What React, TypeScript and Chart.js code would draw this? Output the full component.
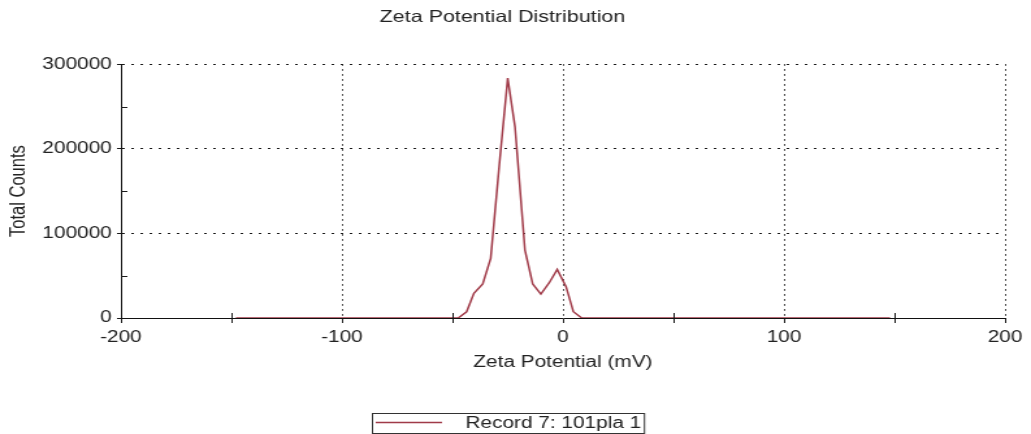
import React, { useEffect, useRef } from "react";
import { Chart, registerables } from "chart.js";

Chart.register(...registerables);

// ---- data ----
const zetaPotential = [
  -148, -47.4, -43.6, -40.3, -36.3, -32.7, -28.9, -25.0, -21.7, -17.2,
  -13.7, -10.0, -6.2, -2.6, 1.4, 4.7, 8.5, 148,
];
const totalCounts = [
  0, 0, 7400, 29200, 40200, 70500, 178000, 283500, 226000, 80300,
  40200, 28300, 41700, 57500, 37000, 7400, 0, 0,
];
const seriesLabel = "Record 7: 101pla 1";
const chartTitle = "Zeta Potential Distribution";
const xTitle = "Zeta Potential (mV)";
const yTitle = "Total Counts";

const xMin = -200;
const xMax = 200;
const xMinorStep = 50;
const xMajorStep = 100;
const yMin = 0;
const yMax = 300000;
const yMinorStep = 50000;
const yMajorStep = 100000;

// ---- layout / style ----
const STRETCH = 1.3; // the reference is horizontally stretched
const OUT_W = 1031;
const OUT_H = 434;
const CW = Math.round(OUT_W / STRETCH);
const CH = OUT_H;
const FONT = "'Liberation Sans', Arial, sans-serif";
const TEXT = "#222";
const GRID = "#1a1a1a";
const LINE = "#a03a48";

const isMajor = (v: number, step: number) => Math.abs(v % step) < 1e-6;

const minorTicksPlugin = {
  id: "minorTicks",
  afterDraw(chart: any) {
    const { ctx, chartArea, scales } = chart;
    const x = scales.x;
    const y = scales.y;
    ctx.save();
    ctx.strokeStyle = GRID;
    ctx.lineWidth = 1;
    ctx.beginPath();
    y.ticks.forEach((t: any) => {
      if (!isMajor(t.value, yMajorStep)) {
        const py = Math.round(y.getPixelForValue(t.value)) + 0.5;
        ctx.moveTo(chartArea.left, py);
        ctx.lineTo(chartArea.left + 5, py);
      }
    });
    x.ticks.forEach((t: any) => {
      if (!isMajor(t.value, xMajorStep)) {
        const px = Math.round(x.getPixelForValue(t.value)) + 0.5;
        ctx.moveTo(px, chartArea.bottom);
        ctx.lineTo(px, chartArea.bottom - 5);
      }
    });
    ctx.stroke();
    ctx.restore();
  },
};

const boxedLegendPlugin = {
  id: "boxedLegend",
  afterDraw(chart: any) {
    const { ctx } = chart;
    const ds = chart.data.datasets[0];
    ctx.save();
    ctx.font = `16px ${FONT}`;
    const textW = ctx.measureText(ds.label).width;
    const boxLeft = 286;
    const boxTop = 413.5;
    const boxH = 20;
    const lineStart = boxLeft + 3;
    const lineEnd = lineStart + 51;
    const textX = lineEnd + 18;
    const boxRight = textX + textW + 2;
    ctx.strokeStyle = "#333";
    ctx.lineWidth = 1;
    ctx.strokeRect(boxLeft + 0.5, boxTop, boxRight - boxLeft, boxH);
    ctx.strokeStyle = ds.borderColor;
    ctx.lineWidth = 1.5;
    ctx.beginPath();
    ctx.moveTo(lineStart, boxTop + 9);
    ctx.lineTo(lineEnd, boxTop + 9);
    ctx.stroke();
    ctx.fillStyle = TEXT;
    ctx.textBaseline = "middle";
    ctx.textAlign = "left";
    ctx.fillText(ds.label, textX, boxTop + 10);
    ctx.restore();
  },
};

export default function App() {
  const canvasRef = useRef<HTMLCanvasElement | null>(null);

  useEffect(() => {
    const canvas = canvasRef.current;
    if (!canvas) return;
    const points = zetaPotential.map((x, i) => ({ x, y: totalCounts[i] }));
    const chart = new Chart(canvas, {
      type: "line",
      data: {
        datasets: [
          {
            label: seriesLabel,
            data: points,
            borderColor: LINE,
            backgroundColor: LINE,
            borderWidth: 1.5,
            pointRadius: 0,
            tension: 0,
            fill: false,
          },
        ],
      },
      plugins: [minorTicksPlugin, boxedLegendPlugin],
      options: {
        responsive: false,
        animation: false,
        devicePixelRatio: 1,
        layout: { padding: { left: 0, right: 20, top: 0, bottom: 56 } },
        plugins: {
          legend: { display: false },
          tooltip: { enabled: false },
          title: {
            display: true,
            text: chartTitle,
            color: TEXT,
            font: { family: FONT, size: 16.5, weight: "normal" },
            padding: { top: 8, bottom: 36.4 },
          },
        },
        scales: {
          x: {
            type: "linear",
            min: xMin,
            max: xMax,
            afterFit: (s: any) => {
              s.height = 60;
            },
            ticks: {
              stepSize: xMinorStep,
              autoSkip: false,
              maxRotation: 0,
              padding: 5,
              color: TEXT,
              font: { family: FONT, size: 16 },
              callback: (v: any) => (isMajor(Number(v), xMajorStep) ? String(v) : ""),
            },
            grid: {
              color: (c: any) =>
                c.tick && isMajor(c.tick.value, xMajorStep) ? GRID : "rgba(0,0,0,0)",
              lineWidth: 1,
              tickLength: 5,
              tickColor: GRID,
              tickWidth: 1,
            },
            border: { display: true, color: "#111", width: 1, dash: [1.5, 3.5] },
            title: {
              display: true,
              text: xTitle,
              color: TEXT,
              font: { family: FONT, size: 16 },
              padding: { top: 0, bottom: 5.4 },
            },
          },
          y: {
            type: "linear",
            min: yMin,
            max: yMax,
            afterFit: (s: any) => {
              s.width = 93;
            },
            ticks: {
              stepSize: yMinorStep,
              autoSkip: false,
              padding: 4,
              color: TEXT,
              font: { family: FONT, size: 16 },
              callback: (v: any) => (isMajor(Number(v), yMajorStep) ? String(v) : ""),
            },
            grid: {
              color: (c: any) =>
                c.tick && isMajor(c.tick.value, yMajorStep) ? GRID : "rgba(0,0,0,0)",
              lineWidth: 1,
              tickLength: 3,
              tickColor: (c: any) =>
                c.tick && isMajor(c.tick.value, yMajorStep) ? GRID : "rgba(0,0,0,0)",
              tickWidth: 1,
            },
            border: { display: true, color: "#111", width: 1, dash: [2, 5] },
            title: {
              display: true,
              text: yTitle,
              color: TEXT,
              font: { family: FONT, size: 16.5 },
              padding: { top: 5, bottom: 0 },
            },
          },
        },
      } as any,
    });
    return () => chart.destroy();
  }, []);

  return (
    <div
      style={{
        position: "absolute",
        left: 0,
        top: 0,
        width: OUT_W,
        height: OUT_H,
        overflow: "hidden",
        background: "#fff",
      }}
    >
      <canvas
        ref={canvasRef}
        width={CW}
        height={CH}
        style={{ width: `${OUT_W}px`, height: `${OUT_H}px`, display: "block" }}
      />
    </div>
  );
}
